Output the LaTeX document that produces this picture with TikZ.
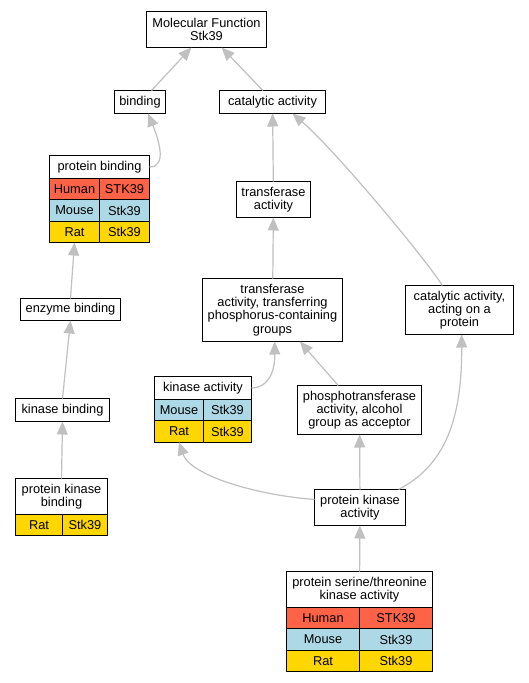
\documentclass[tikz,border=0pt]{standalone}
\usepackage{fontspec}
\setmainfont{Liberation Sans}
\usetikzlibrary{arrows.meta,positioning}
\definecolor{human}{HTML}{FF6347}
\definecolor{mouse}{HTML}{ADD8E6}
\definecolor{rat}{HTML}{FFD700}
\definecolor{edgegray}{HTML}{C0C0C0}

\begin{document}
\begin{tikzpicture}[
  x=1pt,y=-1pt,
  term/.style={draw,line width=1pt,fill=white,align=center,inner sep=0pt,outer sep=0pt,font=\fontsize{12.8}{13.3}\selectfont},
  cell/.style={draw,line width=1pt,inner sep=0pt,outer sep=0pt,minimum height=21.33pt,font=\fontsize{12.8}{13.3}\selectfont},
  arr/.style={-{Triangle[length=13pt,width=11pt]},draw=edgegray,line width=1.2pt}
]
\useasboundingbox (0,0) rectangle (528,683);
\fill[white] (0,0) rectangle (528,683);

% ontology terms
\node[term,minimum width=120pt,minimum height=36pt] (mf) at (206.5,29.5) {Molecular Function\\Stk39};
\node[term,minimum width=51pt,minimum height=23pt] (bind) at (140,102) {binding};
\node[term,minimum width=106pt,minimum height=23pt] (cat) at (272.5,102) {catalytic activity};
\node[term,minimum width=74pt,minimum height=36pt] (ta) at (273.5,199.5) {transferase\\activity};
\node[term,minimum width=100pt,minimum height=22pt] (eb) at (70.5,309.5) {enzyme binding};
\node[term,minimum width=140pt,minimum height=63pt] (tp) at (272.5,310) {transferase\\activity, transferring\\phosphorus-containing\\groups};
\node[term,minimum width=108pt,minimum height=49pt] (cap) at (459.5,310) {catalytic activity,\\acting on a\\protein};
\node[term,minimum width=124pt,minimum height=49pt] (pt) at (359.5,410) {phosphotransferase\\activity, alcohol\\group as acceptor};
\node[term,minimum width=94pt,minimum height=23pt] (kb) at (62.5,410) {kinase binding};
\node[term,minimum width=91pt,minimum height=36pt] (pka) at (360,507.5) {protein kinase\\activity};

% protein binding table
\node[term,minimum width=100pt,minimum height=23pt] (pb) at (99.5,167) {protein binding};
\node[cell,fill=human,minimum width=50pt,anchor=north west] (pbHs) at (pb.south west) {Human};
\node[cell,fill=human,minimum width=50pt,right=0pt of pbHs] (pbHg) {STK39};
\node[cell,fill=mouse,minimum width=50pt,below=0pt of pbHs] (pbMs) {Mouse};
\node[cell,fill=mouse,minimum width=50pt,right=0pt of pbMs] (pbMg) {Stk39};
\node[cell,fill=rat,minimum width=50pt,below=0pt of pbMs] (pbRs) {Rat};
\node[cell,fill=rat,minimum width=50pt,right=0pt of pbRs] (pbRg) {Stk39};

% kinase activity table
\node[term,minimum width=97pt,minimum height=23pt] (ka) at (203,388) {kinase activity};
\node[cell,fill=mouse,minimum width=49pt,anchor=north west] (kaMs) at (ka.south west) {Mouse};
\node[cell,fill=mouse,minimum width=48pt,right=0pt of kaMs] (kaMg) {Stk39};
\node[cell,fill=rat,minimum width=49pt,below=0pt of kaMs] (kaRs) {Rat};
\node[cell,fill=rat,minimum width=48pt,right=0pt of kaRs] (kaRg) {Stk39};

% protein kinase binding table
\node[term,minimum width=92pt,minimum height=36pt] (pkb) at (61.5,496.5) {protein kinase\\binding};
\node[cell,fill=rat,minimum width=47pt,anchor=north west] (pkbRs) at (pkb.south west) {Rat};
\node[cell,fill=rat,minimum width=45pt,right=0pt of pkbRs] (pkbRg) {Stk39};

% protein serine/threonine kinase activity table
\node[term,minimum width=146pt,minimum height=36pt] (pst) at (359.5,589.5) {protein serine/threonine\\kinase activity};
\node[cell,fill=human,minimum width=73pt,anchor=north west] (pstHs) at (pst.south west) {Human};
\node[cell,fill=human,minimum width=73pt,right=0pt of pstHs] (pstHg) {STK39};
\node[cell,fill=mouse,minimum width=73pt,below=0pt of pstHs] (pstMs) {Mouse};
\node[cell,fill=mouse,minimum width=73pt,right=0pt of pstMs] (pstMg) {Stk39};
\node[cell,fill=rat,minimum width=73pt,below=0pt of pstMs] (pstRs) {Rat};
\node[cell,fill=rat,minimum width=73pt,right=0pt of pstRs] (pstRg) {Stk39};

% is_a edges, child to parent
\draw[arr] (bind.45) -- (mf.-130);
\draw[arr] (cat.130) -- (mf.-50);
\draw[arr] (pb.east) .. controls (168,167) and (158,138) .. (bind.-55);
\draw[arr] (ta) -- (cat);
\draw[arr] (cap.125) .. controls (425,258) and (335,150) .. (cat.-30);
\draw[arr] (eb.north) -- (pbRs.south);
\draw[arr] (kb.north) -- (eb.south);
\draw[arr] (pkb.north) -- (kb.south);
\draw[arr] (tp) -- (ta);
\draw[arr] (ka.east) .. controls (268,388) and (275,372) .. (tp.-86);
\draw[arr] (pt.131) -- (tp.-49);
\draw[arr] (pka.170) .. controls (255,495) and (190,475) .. (kaRs.south);
\draw[arr] (pka) -- (pt);
\draw[arr] (pka.25) .. controls (445,465) and (462,420) .. (cap.-85);
\draw[arr] (pst) -- (pka);
\end{tikzpicture}
\end{document}
